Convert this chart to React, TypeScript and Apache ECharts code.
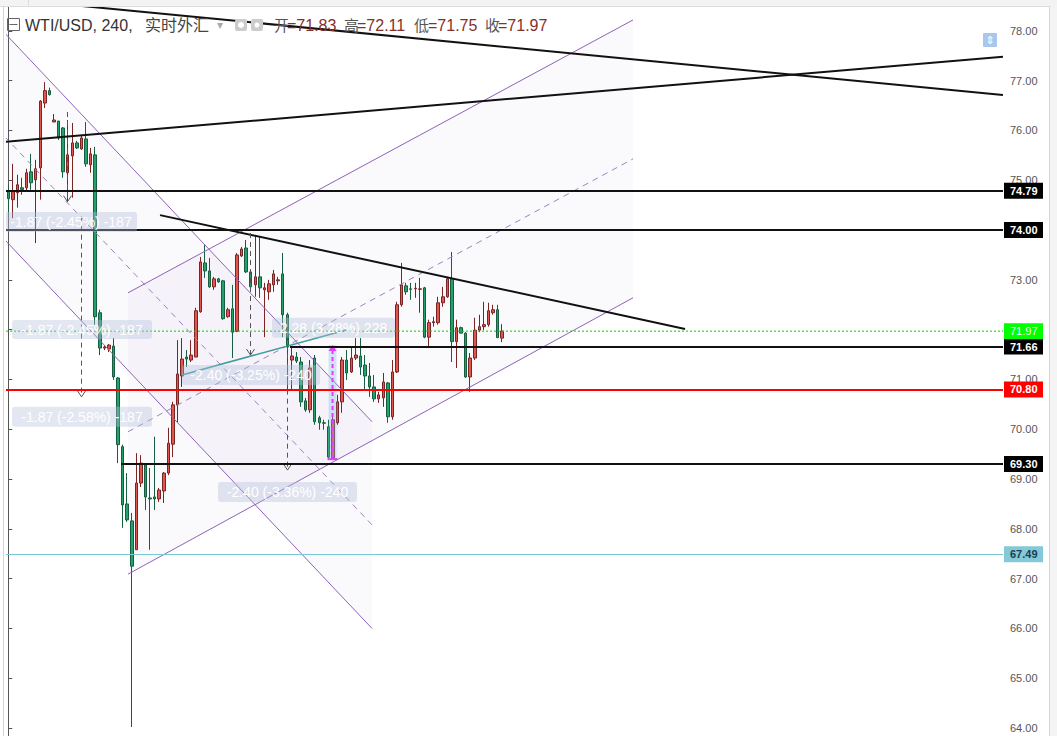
import React, { useEffect, useRef } from "react";
import * as echarts from "echarts";

const FONT = '"Liberation Sans", Arial, sans-serif';
const CJK = '"Liberation Sans", "Noto Sans CJK SC", sans-serif';

// ---- 240-minute WTI/USD candles (open, close, low, high) ----
const openPrices = [
  74.77, 74.61, 74.75, 74.85, 74.85, 75.17, 75.01, 75.25, 76.55, 76.8,
  76.17, 76.19, 76.05, 75.15, 75.49, 75.75, 75.63, 75.83, 75.31, 75.51,
  72.34, 71.63, 71.61, 71.67, 71.03, 69.65, 68.5, 68.16, 67.58, 68.92,
  69.28, 68.62, 68.64, 68.6, 68.76, 69.12, 69.7, 70.49, 71.07, 71.45,
  71.39, 71.45, 72.36, 73.34, 73.18, 72.86, 73.02, 72.98, 72.26, 72.42,
  71.97, 73.48, 73.64, 73.16, 72.9, 73.06, 72.8, 72.76, 72.9, 72.98,
  73.12, 72.3, 71.39, 71.45, 71.35, 70.57, 70.39, 71.43, 70.23, 70.13,
  70.05, 69.42, 70.13, 70.55, 71.39, 71.15, 71.43, 71.47, 71.29, 71.07,
  70.85, 70.61, 70.63, 70.93, 70.25, 71.15, 72.5, 72.88, 72.82, 72.82,
  72.81, 72.84, 71.85, 72.14, 72.14, 72.54, 72.66, 73.02, 71.76, 72.04,
  71.93, 71.05, 71.43, 71.99, 72.06, 72.1, 72.34, 72.4, 71.83,
];
const closePrices = [
  74.63, 74.77, 74.91, 74.81, 75.15, 74.95, 75.23, 76.59, 76.8, 76.72,
  76.21, 75.85, 75.17, 75.51, 75.75, 75.65, 75.85, 75.33, 75.53, 72.26,
  71.63, 71.65, 71.69, 71.05, 69.69, 68.48, 68.18, 67.25, 68.92, 69.32,
  68.64, 68.6, 68.6, 68.78, 69.12, 69.72, 70.49, 71.11, 71.41, 71.41,
  71.49, 72.38, 73.36, 73.18, 72.86, 73.02, 72.96, 72.22, 72.4, 71.95,
  73.5, 73.62, 73.16, 72.86, 73.06, 72.84, 72.84, 72.92, 73.12, 73.0,
  72.3, 71.65, 71.47, 71.37, 70.55, 70.39, 71.23, 70.15, 70.13, 70.12,
  69.44, 70.19, 70.55, 71.39, 71.13, 71.43, 71.49, 71.25, 71.07, 70.85,
  70.61, 70.69, 70.95, 70.25, 71.15, 72.5, 72.9, 72.76, 72.81, 72.83,
  72.82, 71.85, 72.14, 72.16, 72.54, 72.66, 73.02, 71.76, 72.04, 71.93,
  71.05, 71.43, 71.99, 72.06, 72.1, 72.38, 72.4, 71.84, 71.97,
];
const lowPrices = [
  74.37, 74.24, 74.45, 74.71, 74.77, 74.81, 73.74, 74.61, 76.45, 76.7,
  76.17, 75.81, 75.05, 74.57, 74.65, 75.63, 75.61, 75.27, 75.15, 72.1,
  71.49, 71.59, 71.55, 70.99, 69.32, 68.02, 68.14, 64.02, 67.58, 68.84,
  68.38, 67.58, 68.38, 68.54, 68.52, 69.08, 69.44, 70.13, 70.85, 71.25,
  71.35, 71.45, 72.34, 73.04, 72.84, 72.8, 72.94, 72.2, 72.24, 71.43,
  71.95, 73.46, 73.14, 72.84, 72.66, 72.64, 71.85, 72.6, 72.76, 72.9,
  71.85, 70.79, 70.79, 71.33, 70.45, 70.35, 70.33, 70.09, 69.99, 69.99,
  69.42, 69.38, 70.09, 70.33, 70.99, 71.13, 71.39, 71.09, 70.79, 70.65,
  70.55, 70.53, 70.45, 70.13, 70.19, 71.13, 72.46, 72.7, 72.6, 72.64,
  72.34, 71.83, 71.63, 72.06, 72.1, 72.46, 72.64, 71.35, 71.23, 71.93,
  71.03, 70.75, 71.39, 71.95, 71.99, 72.06, 72.3, 71.83, 71.75,
];
const highPrices = [
  74.91, 75.33, 75.11, 75.05, 75.23, 75.53, 75.41, 76.61, 76.97, 76.86,
  76.33, 76.19, 76.07, 76.21, 76.15, 75.79, 75.91, 76.17, 75.65, 75.67,
  72.4, 71.69, 71.71, 71.83, 71.05, 69.69, 69.12, 68.32, 69.52, 69.48,
  69.32, 69.22, 69.85, 68.82, 69.14, 70.03, 70.55, 71.79, 71.83, 71.59,
  71.79, 72.44, 73.46, 73.7, 73.44, 73.06, 73.04, 73.0, 72.44, 72.9,
  73.54, 73.66, 73.8, 73.2, 73.9, 73.86, 72.94, 73.0, 73.2, 73.06,
  73.54, 72.34, 71.65, 71.55, 71.45, 70.63, 71.39, 71.49, 70.27, 70.19,
  70.19, 70.29, 70.69, 71.45, 71.59, 71.63, 71.83, 71.83, 71.49, 71.33,
  71.09, 70.75, 71.13, 70.95, 71.39, 72.56, 73.34, 72.94, 72.94, 72.94,
  73.04, 72.86, 72.2, 72.26, 72.66, 72.86, 73.06, 73.56, 72.2, 72.06,
  71.95, 71.53, 72.24, 72.3, 72.56, 72.54, 72.5, 72.5, 72.11,
];

// bar slots on the time axis (filled bars + empty space to the right)
const SLOT_COUNT = 218;
const categories = Array.from({ length: SLOT_COUNT }, (_, i) => `bar ${i + 1}`);
const priceTicks = [64, 65, 66, 67, 68, 69, 70, 71, 72, 73, 74, 75, 76, 77, 78];
const Y_MIN = 63.84;
const Y_MAX = 78.62;
const X_MIN = -0.5;
const X_MAX = 217.5;

// ---- drawings, in [bar index, price] units ----
// parallel channels: [x1, top1, bottom1, x2, top2, bottom2]
const channelFills = [
  [-0.72, 77.95, 73.8, 79.53, 70.15, 66.0],
  [26.18, 72.74, 67.09, 136.61, 78.22, 72.64],
];
const channelLines = [
  [-0.72, 77.95, 79.53, 70.15],
  [-0.72, 73.8, 79.53, 66.0],
  [26.18, 72.74, 136.61, 78.22],
  [26.18, 67.09, 136.61, 72.64],
];
const channelMidLines = [
  [-0.72, 75.87, 79.53, 68.08],
  [26.18, 69.95, 136.61, 75.43],
];
const trendLines = [
  [16.12, 78.5, 217.5, 76.71],
  [-0.72, 75.77, 217.5, 77.48],
  [33.18, 74.3, 147.98, 72.015],
];
const tealLines = [[37.99, 71.09, 73.85, 71.995]];
// measure arrows: [x, from price, to price]
const measureArrows = [
  [12.84, 76.37, 74.57],
  [15.9, 74.27, 70.65],
  [52.86, 73.94, 71.49],
  [60.95, 72.06, 69.18],
];
// measure labels: [x1, top, x2, bottom]
const measureBoxes = [
  [-0.72, 74.365, 28.15, 73.96],
  [0.81, 72.196, 31.43, 71.81],
  [0.81, 70.45, 31.43, 70.05],
  [37.99, 71.29, 68.16, 70.89],
  [57.67, 72.24, 84.56, 71.835],
  [45.86, 68.94, 76.25, 68.54],
];
const measureLabels = [
  "-1.87 (-2.45%) -187",
  "-1.87 (-2.45%) -187",
  "-1.87 (-2.58%) -187",
  "-2.40 (-3.25%) -240",
  "2.28 (3.28%) 228",
  "-2.40 (-3.36%) -240",
];
const rangeMarker = [[70.9, 71.694, 69.4]];
// horizontal levels
const fullLevels = [74.79, 74.0, 70.8, 67.49];
const partialLevels = [
  [61.6, 71.66],
  [24.65, 69.3],
];
const lastPrice = 71.97;
const header = { open: 71.83, high: 72.11, low: 71.75, close: 71.97 };

function levelStyle(p: number) {
  if (p === 70.8) return { line: "#ff0000", width: 2, bg: "#ff0000", fg: "#ffffff", type: "solid" };
  if (p === 67.49) return { line: "#7cc7d6", width: 1, bg: "#83c9d8", fg: "#1d3d4c", type: "solid" };
  return { line: "#111111", width: 2, bg: "#000000", fg: "#ffffff", type: "solid" };
}

function levelLabel(text: string, bg: string, fg: string, bold = true) {
  return {
    show: true,
    position: "end",
    distance: 1,
    formatter: text,
    color: fg,
    backgroundColor: bg,
    fontWeight: bold ? "bold" : "normal",
    fontSize: 11,
    lineHeight: 12,
    fontFamily: FONT,
    padding: [2, 3, 2, 6],
    width: 30,
  };
}

function segSeries(rows: number[][], color: string, width: number, dash: number[] | null, z: number) {
  return {
    type: "custom",
    xAxisIndex: 1,
    yAxisIndex: 0,
    z,
    silent: true,
    clip: true,
    data: rows,
    encode: { x: [0, 2], y: [1, 3] },
    renderItem: (_p: any, api: any) => {
      const a = api.coord([api.value(0), api.value(1)]);
      const b = api.coord([api.value(2), api.value(3)]);
      return {
        type: "line",
        shape: { x1: a[0], y1: a[1], x2: b[0], y2: b[1] },
        style: { stroke: color, lineWidth: width, lineDash: dash || undefined, fill: null },
      };
    },
  };
}

export default function App() {
  const ref = useRef<HTMLDivElement>(null);
  useEffect(() => {
    const chart = echarts.init(ref.current!, null, { renderer: "svg" });
    const candles = openPrices.map((o, i) => [o, closePrices[i], lowPrices[i], highPrices[i]]);

    const markData: any[] = [];
    fullLevels.forEach((p) => {
      const s = levelStyle(p);
      markData.push({
        yAxis: p,
        lineStyle: { color: s.line, width: s.width, type: s.type },
        label: levelLabel(p.toFixed(2), s.bg, s.fg),
      });
    });
    partialLevels.forEach(([x, p]) => {
      const s = levelStyle(p);
      markData.push([
        { coord: [x, p], lineStyle: { color: s.line, width: s.width, type: s.type }, label: levelLabel(p.toFixed(2), s.bg, s.fg) },
        { coord: [X_MAX, p] },
      ]);
    });
    // last-price tag (the dotted line itself is drawn by a custom series)
    markData.push({
      yAxis: lastPrice,
      lineStyle: { color: "rgba(0,0,0,0)", width: 1, opacity: 1 },
      label: levelLabel(lastPrice.toFixed(2), "#00ff00", "#ffffff", false),
    });

    const hdrY = 25;
    const hdrFont = (size: number) => `${size}px ${CJK}`;
    const valueColor = "#86302a";
    const labelColor = "#555555";

    const option: any = {
      animation: false,
      backgroundColor: "#ffffff",
      grid: { left: 6, right: 54, top: 0, bottom: 0, containLabel: false },
      xAxis: [
        { type: "category", data: categories, boundaryGap: true, show: false },
        { type: "value", min: X_MIN, max: X_MAX, show: false },
      ],
      yAxis: [
        {
          type: "value",
          position: "right",
          min: Y_MIN,
          max: Y_MAX,
          scale: true,
          axisLine: { show: true, lineStyle: { color: "#555555", width: 1 } },
          axisTick: {
            show: true,
            inside: false,
            length: 4,
            lineStyle: { color: "#555555" },
            customValues: priceTicks,
          },
          axisLabel: {
            customValues: priceTicks,
            formatter: (v: number) => v.toFixed(2),
            color: "#555555",
            fontSize: 11,
            fontFamily: FONT,
            margin: 7,
          },
          splitLine: { show: false },
        },
      ],
      series: [
        {
          type: "custom",
          xAxisIndex: 1,
          yAxisIndex: 0,
          z: 1,
          silent: true,
          clip: true,
          data: channelFills,
          encode: { x: [0, 3], y: [1, 2, 4, 5] },
          renderItem: (_p: any, api: any) => {
            const a = api.coord([api.value(0), api.value(1)]);
            const b = api.coord([api.value(3), api.value(4)]);
            const c = api.coord([api.value(3), api.value(5)]);
            const d = api.coord([api.value(0), api.value(2)]);
            return {
              type: "polygon",
              shape: { points: [a, b, c, d] },
              style: { fill: "rgba(120,100,190,0.04)", stroke: null },
            };
          },
        },
        {
          type: "candlestick",
          xAxisIndex: 0,
          yAxisIndex: 0,
          z: 2,
          silent: true,
          data: candles,
          barWidth: 3,
          itemStyle: {
            color: "#e0564e",
            color0: "#24a06d",
            borderColor: "#7a2424",
            borderColor0: "#155e3f",
            borderWidth: 1,
          },
        },
        segSeries([[X_MIN, lastPrice, X_MAX, lastPrice]], "#00d000", 1, [2, 2], 3),
        segSeries(channelLines, "#8e62b8", 1, null, 3),
        segSeries(channelMidLines, "#9c84bb", 1, [6, 5], 3),
        segSeries(trendLines, "#111111", 2, null, 3),
        segSeries(tealLines, "#3e9c9c", 1.5, null, 3),
        {
          type: "custom",
          xAxisIndex: 1,
          yAxisIndex: 0,
          z: 4,
          silent: true,
          clip: true,
          data: measureArrows,
          encode: { x: 0, y: [1, 2] },
          renderItem: (_p: any, api: any) => {
            const t = api.coord([api.value(0), api.value(1)]);
            const b = api.coord([api.value(0), api.value(2)]);
            const x = Math.round(t[0]) + 0.5;
            return {
              type: "group",
              children: [
                { type: "line", shape: { x1: x, y1: t[1], x2: x, y2: b[1] }, style: { stroke: "#555555", lineWidth: 1, lineDash: [5, 4] } },
                {
                  type: "polyline",
                  shape: { points: [[x - 4, b[1] - 6], [x, b[1]], [x + 4, b[1] - 6]] },
                  style: { stroke: "#555555", lineWidth: 1, fill: null },
                },
              ],
            };
          },
        },
        {
          type: "custom",
          xAxisIndex: 1,
          yAxisIndex: 0,
          z: 4,
          silent: true,
          clip: true,
          data: rangeMarker,
          encode: { x: 0, y: [1, 2] },
          renderItem: (_p: any, api: any) => {
            const t = api.coord([api.value(0), api.value(1)]);
            const b = api.coord([api.value(0), api.value(2)]);
            const x = t[0];
            return {
              type: "group",
              children: [
                { type: "rect", shape: { x: x - 4, y: t[1], width: 8, height: b[1] - t[1] }, style: { fill: "rgba(140,185,240,0.35)" } },
                { type: "line", shape: { x1: x, y1: t[1] + 5, x2: x, y2: b[1] }, style: { stroke: "#e040fb", lineWidth: 2, lineDash: [4, 3] } },
                { type: "polygon", shape: { points: [[x - 4, t[1] + 6], [x, t[1]], [x + 4, t[1] + 6]] }, style: { fill: "#e040fb" } },
                { type: "line", shape: { x1: x - 5, y1: b[1], x2: x + 5, y2: b[1] }, style: { stroke: "#e040fb", lineWidth: 2 } },
              ],
            };
          },
        },
        {
          type: "custom",
          xAxisIndex: 1,
          yAxisIndex: 0,
          z: 5,
          silent: true,
          clip: true,
          data: measureBoxes,
          encode: { x: [0, 2], y: [1, 3] },
          renderItem: (p: any, api: any) => {
            const a = api.coord([api.value(0), api.value(1)]);
            const b = api.coord([api.value(2), api.value(3)]);
            return {
              type: "group",
              children: [
                {
                  type: "rect",
                  shape: { x: a[0], y: a[1], width: b[0] - a[0], height: b[1] - a[1], r: 3 },
                  style: { fill: "rgba(180,192,220,0.38)" },
                },
                {
                  type: "text",
                  style: {
                    text: measureLabels[p.dataIndex],
                    x: (a[0] + b[0]) / 2,
                    y: (a[1] + b[1]) / 2,
                    align: "center",
                    verticalAlign: "middle",
                    fill: "#ffffff",
                    font: `14px ${FONT}`,
                  },
                },
              ],
            };
          },
        },
        {
          type: "line",
          xAxisIndex: 1,
          yAxisIndex: 0,
          z: 6,
          clip: false,
          silent: true,
          data: [],
          markLine: {
            silent: true,
            symbol: ["none", "none"],
            animation: false,
            emphasis: { disabled: true },
            data: markData,
          },
        },
      ],
      graphic: [
        { type: "rect", shape: { x: 0, y: 0, width: 1057, height: 6 }, style: { fill: "#f3f3f3" }, z: 10 },
        { type: "line", shape: { x1: 0, y1: 6.5, x2: 1057, y2: 6.5 }, style: { stroke: "#dddddd" }, z: 10 },
        { type: "line", shape: { x1: 28.5, y1: 0, x2: 28.5, y2: 6 }, style: { stroke: "#dddddd" }, z: 10 },
        { type: "line", shape: { x1: 3.5, y1: 6, x2: 3.5, y2: 736 }, style: { stroke: "#d4d4d4" }, z: 10 },
        { type: "rect", shape: { x: 1050, y: 6, width: 7, height: 730 }, style: { fill: "#f4f4f4" }, z: 10 },
        { type: "line", shape: { x1: 1049.5, y1: 6, x2: 1049.5, y2: 736 }, style: { stroke: "#d8d8d8" }, z: 10 },
        // header
        { type: "rect", shape: { x: 7.5, y: hdrY - 6.5, width: 12, height: 12 }, style: { fill: "none", stroke: "#666666" }, z: 10 },
        { type: "line", shape: { x1: 9.5, y1: hdrY - 0.5, x2: 17.5, y2: hdrY - 0.5 }, style: { stroke: "#666666" }, z: 10 },
        { type: "text", x: 25, y: hdrY, style: { text: "WTI/USD, 240,", fill: "#333333", font: hdrFont(16), verticalAlign: "middle" }, z: 10 },
        { type: "text", x: 145, y: hdrY, style: { text: "实时外汇", fill: "#444444", font: hdrFont(16), verticalAlign: "middle" }, z: 10 },
        { type: "text", x: 217, y: hdrY, style: { text: "▾", fill: "#aaaaaa", font: '12px "DejaVu Sans"', verticalAlign: "middle" }, z: 10 },
        { type: "rect", shape: { x: 235, y: hdrY - 6, width: 12, height: 12, r: 2 }, style: { fill: "#cccccc" }, z: 10 },
        { type: "circle", shape: { cx: 241, cy: hdrY, r: 3 }, style: { fill: "#ffffff" }, z: 10 },
        { type: "rect", shape: { x: 251, y: hdrY - 6, width: 12, height: 12, r: 2 }, style: { fill: "#cccccc" }, z: 10 },
        { type: "circle", shape: { cx: 257, cy: hdrY, r: 2.5 }, style: { fill: "#ffffff" }, z: 10 },
        { type: "text", x: 274, y: hdrY, style: { text: "开", fill: labelColor, font: hdrFont(15), verticalAlign: "middle" }, z: 10 },
        { type: "text", x: 287, y: hdrY, style: { text: "=" + header.open.toFixed(2), fill: valueColor, font: hdrFont(16), verticalAlign: "middle" }, z: 10 },
        { type: "text", x: 344, y: hdrY, style: { text: "高", fill: labelColor, font: hdrFont(15), verticalAlign: "middle" }, z: 10 },
        { type: "text", x: 357, y: hdrY, style: { text: "=" + header.high.toFixed(2), fill: valueColor, font: hdrFont(16), verticalAlign: "middle" }, z: 10 },
        { type: "text", x: 414, y: hdrY, style: { text: "低", fill: labelColor, font: hdrFont(15), verticalAlign: "middle" }, z: 10 },
        { type: "text", x: 428, y: hdrY, style: { text: "=" + header.low.toFixed(2), fill: valueColor, font: hdrFont(16), verticalAlign: "middle" }, z: 10 },
        { type: "text", x: 485, y: hdrY, style: { text: "收", fill: labelColor, font: hdrFont(15), verticalAlign: "middle" }, z: 10 },
        { type: "text", x: 498, y: hdrY, style: { text: "=" + header.close.toFixed(2), fill: valueColor, font: hdrFont(16), verticalAlign: "middle" }, z: 10 },
        // scale icon top-right
        { type: "rect", shape: { x: 983, y: 33, width: 14, height: 14, r: 1 }, style: { fill: "#a9c6ec" }, z: 10 },
        { type: "text", x: 990, y: 40, style: { text: "⇕", fill: "#ffffff", font: '11px "DejaVu Sans"', align: "center", verticalAlign: "middle" }, z: 10 },
      ],
    };
    chart.setOption(option);
    return () => chart.dispose();
  }, []);
  return (
    <div
      ref={ref}
      style={{ position: "fixed", left: 0, top: 0, width: 1057, height: 736, background: "#ffffff" }}
    />
  );
}
